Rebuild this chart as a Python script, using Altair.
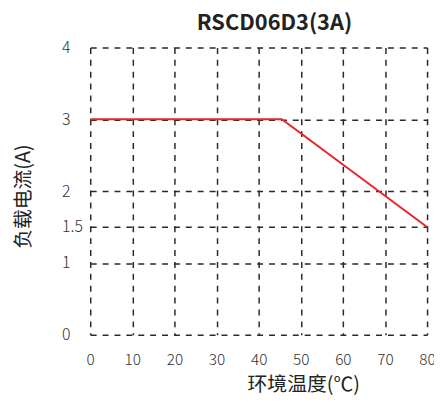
import altair as alt
import pandas as pd

temps = [0, 45.5, 80]
currents = [3, 3, 1.5]
x_ticks = [0, 10, 20, 30, 40, 50, 60, 70, 80]
y_ticks = [0, 1, 1.5, 2, 3, 4]

df = pd.DataFrame({"t": temps, "i": currents})
FONT = "Noto Sans CJK SC"

chart = alt.Chart(df).mark_line(color="#e8262b", strokeWidth=2).encode(
    x=alt.X("t:Q", scale=alt.Scale(domain=[0, 80], nice=False, zero=False),
            axis=alt.Axis(values=x_ticks, title="环境温度(℃)", grid=True, format="d",
                          labelOverlap=False, labelFlush=False,
                          gridDash=[6, 6], gridColor="#2a2a2a", gridWidth=1.5,
                          domain=False, ticks=False, labelPadding=18,
                          labelFont=FONT, labelFontSize=15.5, labelColor="#333333",
                          labelFontWeight=300,
                          titleFont=FONT, titleFontSize=20, titleFontWeight="normal",
                          titleColor="#222222", titleX=215, titleY=56,
                          titleBaseline="alphabetic", titleAlign="center")),
    y=alt.Y("i:Q", scale=alt.Scale(domain=[0, 4], nice=False),
            axis=alt.Axis(values=y_ticks, title="负载电流(A)", grid=True, format="~g",
                          labelOverlap=False,
                          gridDash=[6, 6], gridColor="#2a2a2a", gridWidth=1.5,
                          domain=False, ticks=False, labelAlign="left", labelPadding=29,
                          labelFont=FONT, labelFontSize=16, labelColor="#333333",
                          labelFontWeight=300,
                          titleFont=FONT, titleFontSize=20, titleFontWeight="normal",
                          titleColor="#222222", titleAngle=270, titleX=-67, titleY=150,
                          titleBaseline="middle", titleAlign="center")),
).properties(
    width=340, height=290,
    title=alt.TitleParams("RSCD06D3(3A)", font=FONT, fontSize=22, fontWeight="bold",
                          color="#222222", anchor="middle", dx=16, offset=5),
    autosize=alt.AutoSizeParams(type="none"),
    padding={"left": 83, "top": 38, "right": 7, "bottom": 60},
).configure_view(stroke=None)

chart.save("out.html", embed_options={"renderer": "svg", "actions": False})
